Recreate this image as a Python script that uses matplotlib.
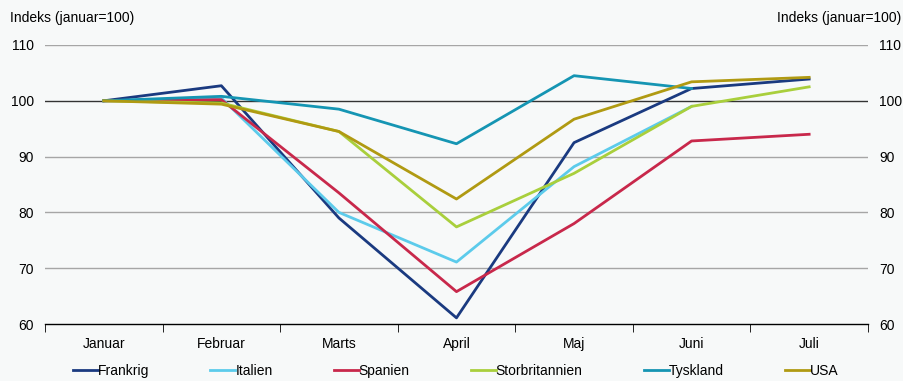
import numpy as np
import matplotlib
matplotlib.use("Agg")
import matplotlib.pyplot as plt
from matplotlib.ticker import FixedLocator

months = ["Januar", "Februar", "Marts", "April", "Maj", "Juni", "Juli"]

frankrig = [100, 102.7, 79.0, 61.1, 92.5, 102.2, 103.9]
italien = [100, 100.5, 80.0, 71.1, 88.2, 99.0, np.nan]
spanien = [100, 100.2, 83.5, 65.8, 78.0, 92.8, 94.0]
storbritannien = [100, 99.6, 94.5, 77.4, 87.0, 99.0, 102.5]
tyskland = [100, 100.8, 98.5, 92.3, 104.5, 102.2, np.nan]
usa = [100, 99.4, 94.5, 82.4, 96.7, 103.4, 104.2]

series = [
    ("Frankrig", frankrig, "#1a3a80"),
    ("Italien", italien, "#5ccbeb"),
    ("Spanien", spanien, "#c8284b"),
    ("Storbritannien", storbritannien, "#a9cf3c"),
    ("Tyskland", tyskland, "#1595b3"),
    ("USA", usa, "#b09a12"),
]

bg = "#f7f9f9"
plt.rcParams["font.family"] = ["Liberation Sans", "DejaVu Sans"]

fig = plt.figure(figsize=(9.04, 3.81), dpi=100, facecolor=bg)
ax = fig.add_axes([0.0498, 0.1496, 0.9103, 0.7323], facecolor=bg)

x = np.arange(len(months))
for name, vals, col in series:
    ax.plot(x, vals, color=col, lw=2, label=name, zorder=3)

ax.set_xlim(-0.5, 6.5)
ax.set_ylim(60, 110)

# grey grid, dark line at the index base
for v in [70, 80, 90, 110]:
    ax.axhline(v, color="#a6a6a6", lw=1, zorder=1)
ax.axhline(100, color="#333333", lw=1, zorder=2)

for s in ["left", "right", "top"]:
    ax.spines[s].set_visible(False)
ax.spines["bottom"].set_color("black")
ax.spines["bottom"].set_linewidth(1)

ax.set_xticks(x)
ax.set_xticklabels(months, fontsize=10)
ax.xaxis.set_minor_locator(FixedLocator(np.arange(-0.5, 7, 1)))
ax.tick_params(axis="x", which="major", length=0, pad=9)
ax.tick_params(axis="x", which="minor", length=6, direction="out", color="black")

ax.set_yticks([60, 70, 80, 90, 100, 110])
ax.tick_params(axis="y", length=0, labelsize=10, pad=8,
               labelleft=True, labelright=True)

fig.text(0.011, 0.935, "Indeks (januar=100)", fontsize=10, ha="left", va="bottom")
fig.text(0.997, 0.935, "Indeks (januar=100)", fontsize=10, ha="right", va="bottom")

fig.legend(loc="center", ncol=6, frameon=False, bbox_to_anchor=(0.504, 0.026),
           handlelength=1.8, handletextpad=0.0, columnspacing=4.4,
           borderpad=0, fontsize=10)

fig.savefig("out.png", dpi=100, facecolor=bg)
